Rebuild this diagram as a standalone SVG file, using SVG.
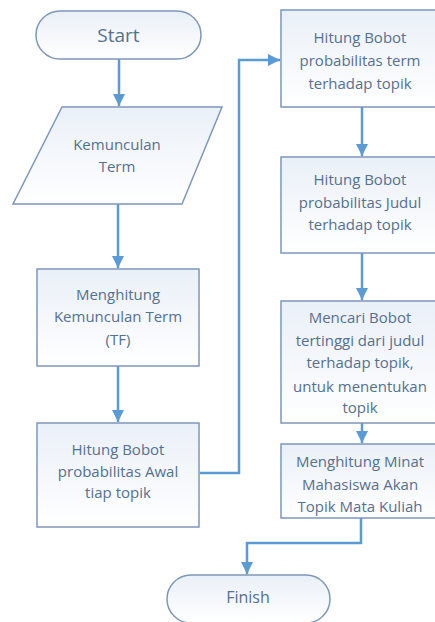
<svg xmlns="http://www.w3.org/2000/svg" width="435" height="622" viewBox="0 0 435 622">
<style>
.n{fill:url(#g);stroke:#7f97b8;stroke-width:1.5}
.t{font-family:"Open Sans","Liberation Sans",sans-serif;font-size:15px;fill:#56708f;text-anchor:middle}
.ts{font-size:19px}
.tf{font-size:16px}
.c{fill:none;stroke:#5b9bd5;stroke-width:2.5}
</style>
<defs>
<linearGradient id="g" x1="0" y1="0" x2="0" y2="1">
<stop offset="0" stop-color="#eaf0f8"/>
<stop offset="1" stop-color="#ffffff"/>
</linearGradient>
<marker id="a" viewBox="0 0 10 10" refX="10" refY="5" markerWidth="5" markerHeight="5" markerUnits="strokeWidth" orient="auto">
<path d="M0,0 L10,5 L0,10 Z" fill="#5b9bd5"/>
</marker>
</defs>
<rect width="435" height="622" fill="#ffffff"/>
<g id="connectors">
<path class="c" d="M119,59 V106" marker-end="url(#a)"/>
<path class="c" d="M118,204 V268" marker-end="url(#a)"/>
<path class="c" d="M118,366 V422" marker-end="url(#a)"/>
<path class="c" d="M200,473 H239 V60 H280" marker-end="url(#a)"/>
<path class="c" d="M362,107 V156" marker-end="url(#a)"/>
<path class="c" d="M362,253 V300" marker-end="url(#a)"/>
<path class="c" d="M362,423 V443" marker-end="url(#a)"/>
<path class="c" d="M361,518 V543 H247 V574" marker-end="url(#a)"/>
</g>
<g id="start">
<rect class="n" x="36" y="11" width="165" height="48" rx="24"/>
<text class="t ts" x="118.5" y="42">Start</text>
</g>
<g id="kemunculan">
<polygon class="n" points="62,107 222,107 182,204 13,204"/>
<text class="t" x="117" y="150">Kemunculan</text>
<text class="t" x="117" y="172">Term</text>
</g>
<g id="menghitung-tf">
<rect class="n" x="37" y="269" width="162" height="97"/>
<text class="t" x="118" y="300">Menghitung</text>
<text class="t" x="118" y="322">Kemunculan Term</text>
<text class="t" x="118" y="345">(TF)</text>
</g>
<g id="bobot-awal">
<rect class="n" x="37" y="423" width="162" height="104"/>
<text class="t" x="118" y="455">Hitung Bobot</text>
<text class="t" x="118" y="477">probabilitas Awal</text>
<text class="t" x="118" y="498">tiap topik</text>
</g>
<g id="bobot-term">
<rect class="n" x="281" y="10" width="162" height="97"/>
<text class="t" x="360" y="43">Hitung Bobot</text>
<text class="t" x="360" y="66">probabilitas term</text>
<text class="t" x="360" y="89">terhadap topik</text>
</g>
<g id="bobot-judul">
<rect class="n" x="281" y="157" width="162" height="96"/>
<text class="t" x="360" y="185">Hitung Bobot</text>
<text class="t" x="360" y="208">probabilitas Judul</text>
<text class="t" x="360" y="230">terhadap topik</text>
</g>
<g id="mencari-bobot">
<rect class="n" x="281" y="301" width="162" height="122"/>
<text class="t" x="360" y="323">Mencari Bobot</text>
<text class="t" x="360" y="346">tertinggi dari judul</text>
<text class="t" x="360" y="368">terhadap topik,</text>
<text class="t" x="360" y="392">untuk menentukan</text>
<text class="t" x="360" y="413">topik</text>
</g>
<g id="minat">
<rect class="n" x="281" y="444" width="162" height="74"/>
<text class="t" x="360" y="467">Menghitung Minat</text>
<text class="t" x="360" y="490">Mahasiswa Akan</text>
<text class="t" x="360" y="512">Topik Mata Kuliah</text>
</g>
<g id="finish">
<rect class="n" x="167" y="575" width="163" height="48" rx="24"/>
<text class="t tf" x="248" y="603">Finish</text>
</g>
</svg>
